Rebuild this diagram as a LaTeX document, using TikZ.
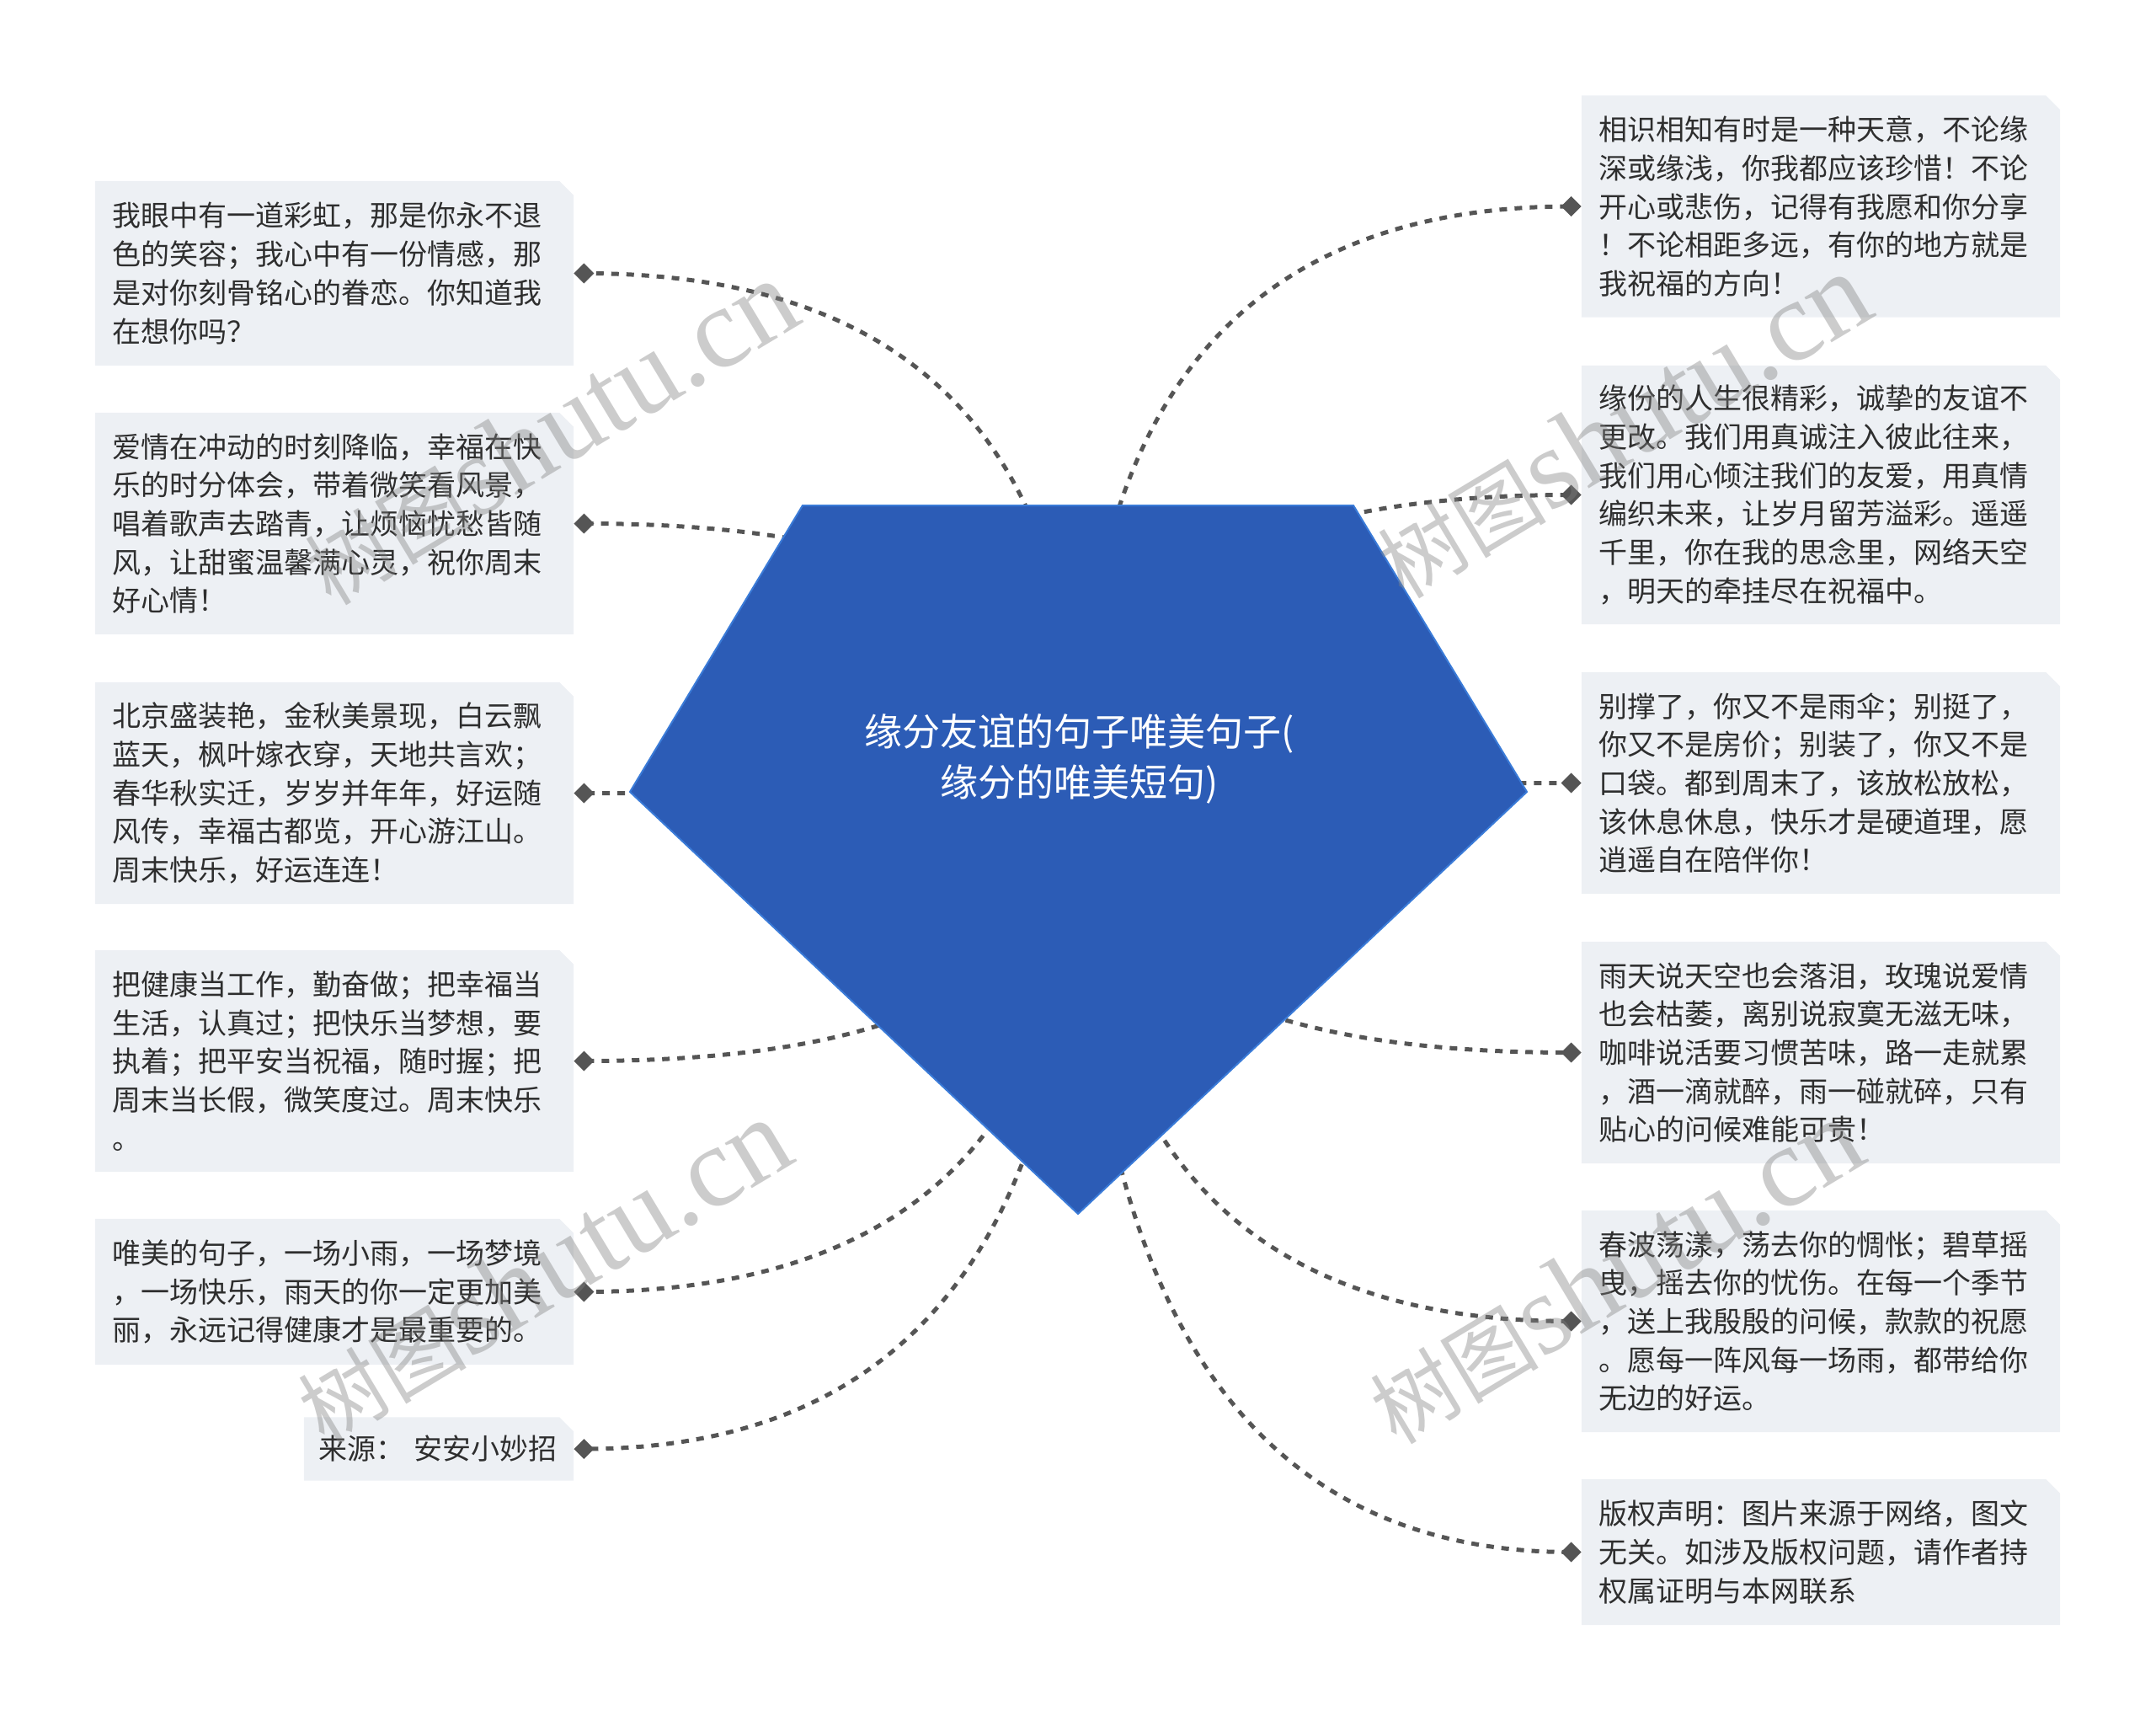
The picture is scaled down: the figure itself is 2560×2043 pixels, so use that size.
\documentclass[tikz,border=0pt]{standalone}
\usepackage{fontspec}
\setmainfont{Noto Sans CJK SC}
\newfontfamily\wmlatin{Liberation Serif}
\usetikzlibrary{calc,shapes.geometric}
\definecolor{boxfill}{HTML}{EDF0F4}
\definecolor{txt}{HTML}{2E2E2E}
\definecolor{gem}{HTML}{2C5CB6}
\definecolor{gemedge}{HTML}{3A7BD8}
\definecolor{conncol}{HTML}{555555}
\pgfdeclarelayer{connlayer}
\pgfdeclarelayer{boxlayer}
\pgfdeclarelayer{wmlayer}
\pgfsetlayers{connlayer,boxlayer,main,wmlayer}
\tikzset{
  leaf/.style={align=left, text=txt, font=\fontsize{34pt}{45.7pt}\selectfont,
    inner xsep=20pt, inner ysep=0pt, text width=528pt, anchor=center},
  dia/.style={diamond, fill=conncol, inner sep=0pt, minimum width=24pt, minimum height=24pt},
  conn/.style={draw=conncol, line width=5pt, dash pattern=on 9pt off 9pt},
  wm/.style={text=black!50, opacity=0.4, rotate=31, inner sep=0pt},
  boxbg/.style={fill=boxfill}
}
\newcommand\mybg[1]{%
  \begin{pgfonlayer}{boxlayer}
    \fill[boxbg] (#1.south west) -- (#1.north west) -- ([xshift=-17pt]#1.north east)
      -- ([yshift=-17pt]#1.north east) -- (#1.south east) -- cycle;
  \end{pgfonlayer}}
\newcommand\wmtext{{\fontsize{100pt}{100pt}\selectfont 树图}{\wmlatin\fontsize{136pt}{136pt}\selectfont shutu.cn}}
\begin{document}
\begin{tikzpicture}[x=1pt,y=-1pt]
\useasboundingbox (0,0) rectangle (2560,2043);

% central gem
\fill[gem, draw=gemedge, line width=2pt] (953,600) -- (1607,600) -- (1813,940) -- (1280,1441) -- (748,940) -- cycle;
\node[text=white, align=center, font=\fontsize{45pt}{60pt}\selectfont] (root) at (1282,901)
  {缘分友谊的句子唯美句子(\\缘分的唯美短句)};
\coordinate (hub) at (1282,940);

% left leaves
\node[leaf, minimum height=219pt] (L1) at (397,324.5)
  {我眼中有一道彩虹，那是你永不退\\色的笑容；我心中有一份情感，那\\是对你刻骨铭心的眷恋。你知道我\\在想你吗？};
\node[leaf, minimum height=263pt] (L2) at (397,621.5)
  {爱情在冲动的时刻降临，幸福在快\\乐的时分体会，带着微笑看风景，\\唱着歌声去踏青，让烦恼忧愁皆随\\风，让甜蜜温馨满心灵，祝你周末\\好心情！};
\node[leaf, minimum height=263pt] (L3) at (397,941.5)
  {北京盛装艳，金秋美景现，白云飘\\蓝天，枫叶嫁衣穿，天地共言欢；\\春华秋实迁，岁岁并年年，好运随\\风传，幸福古都览，开心游江山。\\周末快乐，好运连连！};
\node[leaf, minimum height=263pt] (L4) at (397,1259.5)
  {把健康当工作，勤奋做；把幸福当\\生活，认真过；把快乐当梦想，要\\执着；把平安当祝福，随时握；把\\周末当长假，微笑度过。周末快乐\\。};
\node[leaf, minimum height=173pt] (L5) at (397,1533.5)
  {唯美的句子，一场小雨，一场梦境\\，一场快乐，雨天的你一定更加美\\丽，永远记得健康才是最重要的。};
\node[leaf, minimum height=75pt, text width=286pt, inner xsep=17pt] (L6) at (521,1720)
  {来源：~安安小妙招};

% right leaves
\node[leaf, minimum height=263pt] (R1) at (2162,245)
  {相识相知有时是一种天意，不论缘\\深或缘浅，你我都应该珍惜！不论\\开心或悲伤，记得有我愿和你分享\\！不论相距多远，有你的地方就是\\我祝福的方向！};
\node[leaf, minimum height=307pt] (R2) at (2162,587.5)
  {缘份的人生很精彩，诚挚的友谊不\\更改。我们用真诚注入彼此往来，\\我们用心倾注我们的友爱，用真情\\编织未来，让岁月留芳溢彩。遥遥\\千里，你在我的思念里，网络天空\\，明天的牵挂尽在祝福中。};
\node[leaf, minimum height=263pt] (R3) at (2162,929.5)
  {别撑了，你又不是雨伞；别挺了，\\你又不是房价；别装了，你又不是\\口袋。都到周末了，该放松放松，\\该休息休息，快乐才是硬道理，愿\\逍遥自在陪伴你！};
\node[leaf, minimum height=263pt] (R4) at (2162,1249.5)
  {雨天说天空也会落泪，玫瑰说爱情\\也会枯萎，离别说寂寞无滋无味，\\咖啡说活要习惯苦味，路一走就累\\，酒一滴就醉，雨一碰就碎，只有\\贴心的问候难能可贵！};
\node[leaf, minimum height=263pt] (R5) at (2162,1568.5)
  {春波荡漾，荡去你的惆怅；碧草摇\\曳，摇去你的忧伤。在每一个季节\\，送上我殷殷的问候，款款的祝愿\\。愿每一阵风每一场雨，都带给你\\无边的好运。};
\node[leaf, minimum height=173pt] (R6) at (2162,1842.5)
  {版权声明：图片来源于网络，图文\\无关。如涉及版权问题，请作者持\\权属证明与本网联系};

\foreach \n in {L1,L2,L3,L4,L5,L6,R1,R2,R3,R4,R5,R6} {\mybg{\n}}

% diamonds
\foreach \n in {L1,L2,L3,L4,L5,L6} {\node[dia, anchor=west] (d\n) at (\n.east) {};}
\foreach \n in {R1,R2,R3,R4,R5,R6} {\node[dia, anchor=east] (d\n) at (\n.west) {};}

% connectors
\begin{pgfonlayer}{connlayer}
\foreach \n in {L1,L2,L3,L4,L5,L6,R1,R2,R3,R4,R5,R6} {
  \draw[conn] (hub) .. controls ($(hub)!0.6667!(hub |- d\n.center)$) and ($(d\n.center)!0.6667!(hub |- d\n.center)$) .. (d\n.center);
}
\end{pgfonlayer}

% watermarks
\begin{pgfonlayer}{wmlayer}
\node[wm] (w1) at (653,514) {\wmtext};
\node[wm] (w2) at (1927,506) {\wmtext};
\node[wm] (w3) at (645,1510) {\wmtext};
\node[wm] (w4) at (1918,1510) {\wmtext};
\end{pgfonlayer}
\end{tikzpicture}
\end{document}
